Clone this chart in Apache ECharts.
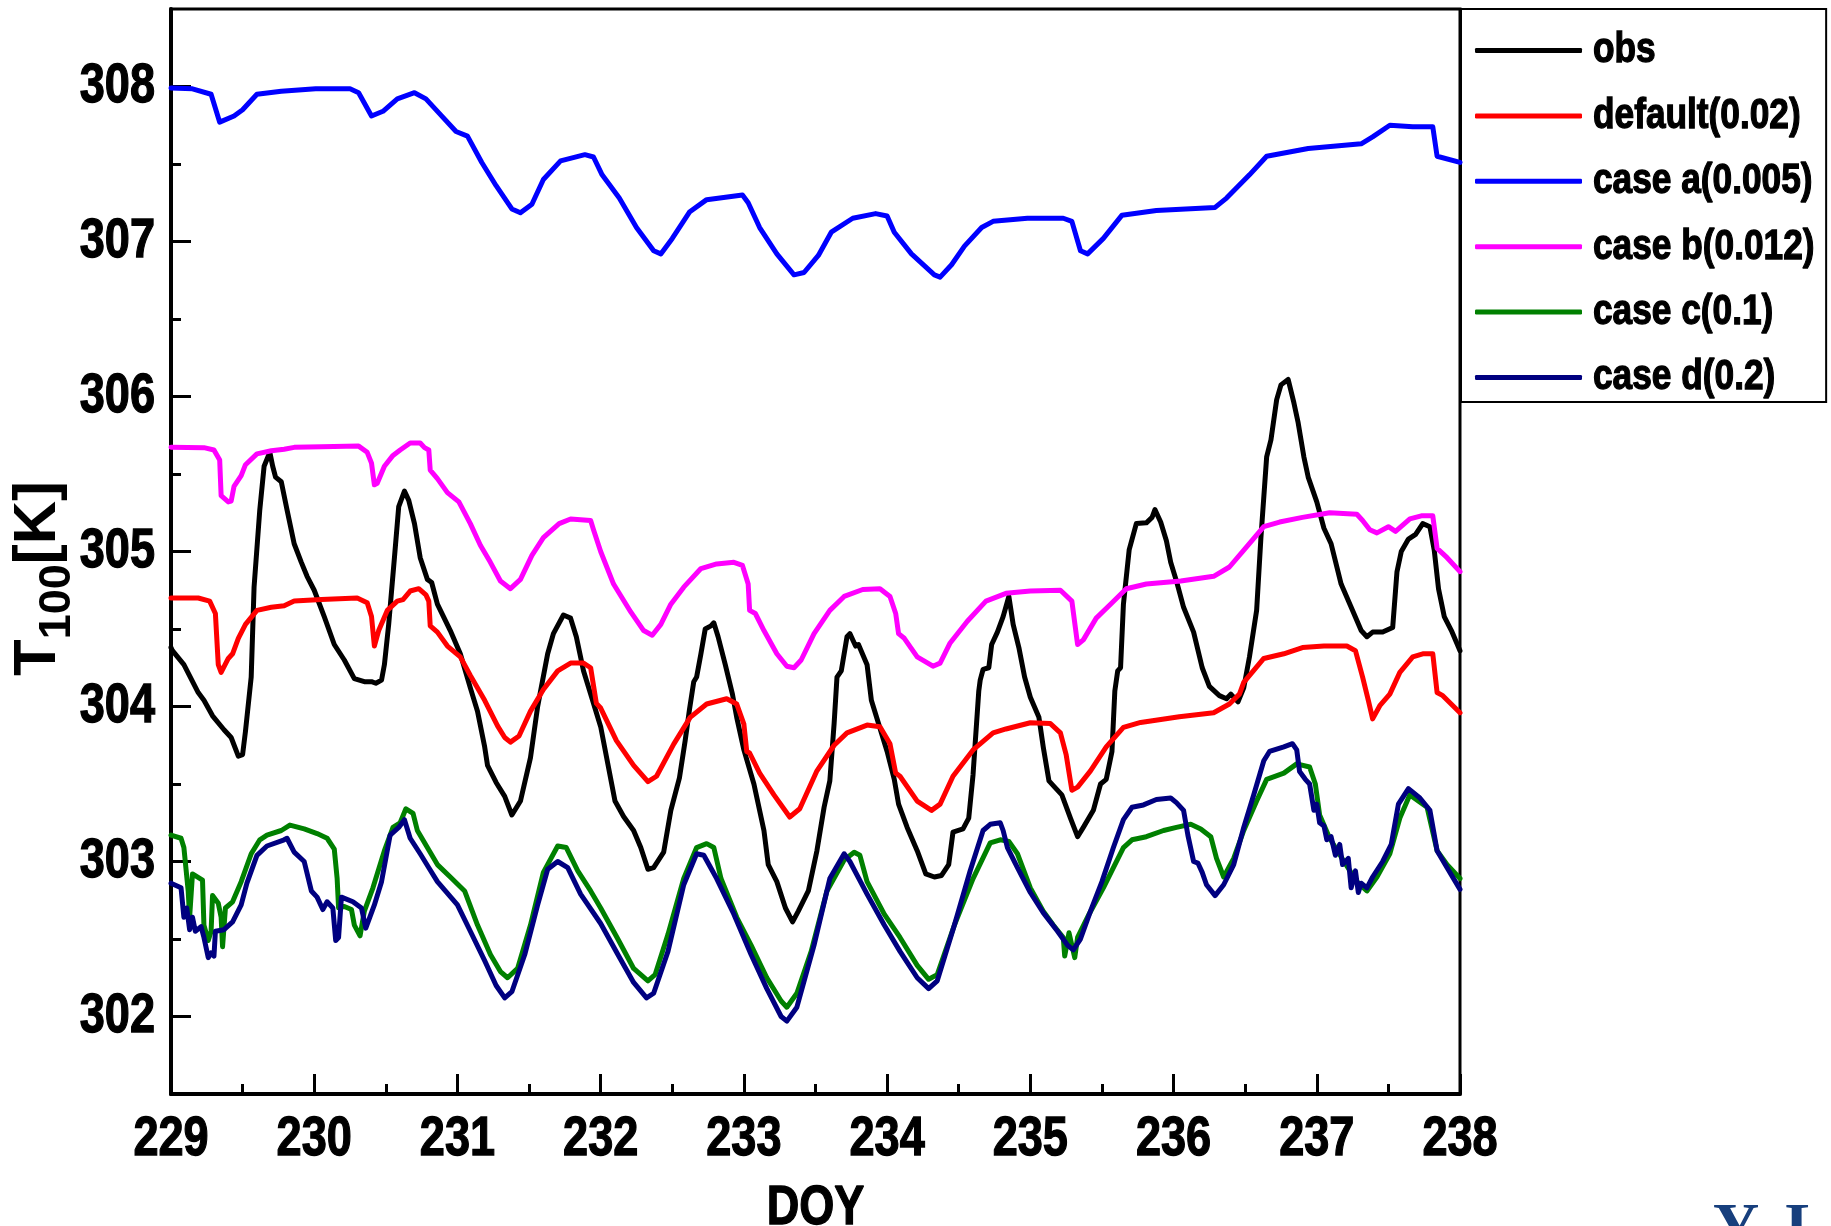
<!DOCTYPE html>
<html>
<head>
<meta charset="utf-8">
<script src="https://cdn.jsdelivr.net/npm/echarts@6/dist/echarts.min.js"></script>
<style>
html,body{margin:0;padding:0;background:#fff;}
#chart{width:1831px;height:1226px;}
</style>
</head>
<body>
<div id="chart"></div>
<script>
const seriesNames = ['obs','default(0.02)','case a(0.005)','case b(0.012)','case c(0.1)','case d(0.2)'];
const yMajorTicks = [302,303,304,305,306,307,308];
const yMinorTicks = [302.5,303.5,304.5,305.5,306.5,307.5];

const obs = [[229.00,304.38],[229.01,304.36],[229.09,304.27],[229.19,304.09],[229.23,304.04],[229.29,303.94],[229.37,303.85],[229.42,303.80],[229.47,303.68],[229.50,303.69],[229.52,303.84],[229.56,304.19],[229.58,304.77],[229.62,305.27],[229.65,305.55],[229.69,305.64],[229.71,305.55],[229.73,305.48],[229.77,305.45],[229.81,305.27],[229.86,305.05],[229.91,304.93],[229.95,304.84],[230.00,304.75],[230.07,304.58],[230.14,304.40],[230.21,304.30],[230.28,304.18],[230.35,304.16],[230.40,304.16],[230.43,304.15],[230.47,304.17],[230.49,304.27],[230.52,304.53],[230.56,304.96],[230.59,305.29],[230.63,305.39],[230.66,305.33],[230.70,305.18],[230.74,304.96],[230.79,304.82],[230.82,304.80],[230.86,304.66],[230.95,304.49],[231.02,304.34],[231.09,304.12],[231.14,303.97],[231.19,303.74],[231.21,303.62],[231.27,303.51],[231.33,303.42],[231.38,303.30],[231.44,303.39],[231.51,303.67],[231.56,304.00],[231.63,304.34],[231.67,304.47],[231.74,304.59],[231.79,304.57],[231.83,304.45],[231.88,304.23],[231.93,304.08],[232.00,303.87],[232.05,303.63],[232.10,303.39],[232.16,303.29],[232.23,303.20],[232.28,303.09],[232.33,302.95],[232.37,302.96],[232.44,303.06],[232.49,303.33],[232.55,303.54],[232.59,303.78],[232.62,303.98],[232.65,304.16],[232.67,304.19],[232.70,304.34],[232.73,304.50],[232.77,304.52],[232.79,304.54],[232.82,304.45],[232.87,304.27],[232.92,304.08],[232.95,303.93],[233.00,303.72],[233.07,303.50],[233.14,303.20],[233.17,302.98],[233.23,302.87],[233.29,302.70],[233.34,302.61],[233.38,302.68],[233.45,302.81],[233.51,303.07],[233.56,303.35],[233.60,303.52],[233.63,303.89],[233.65,304.19],[233.68,304.23],[233.72,304.45],[233.74,304.47],[233.78,304.39],[233.80,304.40],[233.86,304.27],[233.89,304.04],[233.94,303.89],[234.00,303.71],[234.05,303.53],[234.08,303.37],[234.14,303.22],[234.21,303.07],[234.27,302.92],[234.33,302.90],[234.38,302.91],[234.43,302.98],[234.46,303.19],[234.53,303.21],[234.57,303.28],[234.60,303.56],[234.64,304.10],[234.65,304.17],[234.67,304.24],[234.71,304.25],[234.73,304.40],[234.77,304.48],[234.81,304.58],[234.85,304.71],[234.88,304.53],[234.92,304.38],[234.96,304.19],[235.00,304.06],[235.06,303.93],[235.09,303.74],[235.13,303.52],[235.17,303.48],[235.22,303.43],[235.28,303.28],[235.33,303.16],[235.37,303.22],[235.44,303.33],[235.49,303.50],[235.53,303.53],[235.57,303.71],[235.59,304.10],[235.61,304.23],[235.63,304.25],[235.65,304.66],[235.69,305.01],[235.74,305.18],[235.81,305.185],[235.85,305.22],[235.87,305.27],[235.91,305.19],[235.95,305.07],[235.98,304.93],[236.02,304.81],[236.07,304.64],[236.14,304.48],[236.20,304.25],[236.25,304.13],[236.32,304.07],[236.37,304.05],[236.40,304.08],[236.45,304.03],[236.49,304.12],[236.53,304.32],[236.58,304.62],[236.61,305.09],[236.65,305.61],[236.68,305.72],[236.72,305.98],[236.75,306.075],[236.80,306.11],[236.84,305.96],[236.87,305.83],[236.91,305.61],[236.94,305.48],[237.00,305.32],[237.05,305.15],[237.10,305.05],[237.17,304.79],[237.25,304.62],[237.31,304.49],[237.35,304.45],[237.39,304.48],[237.46,304.48],[237.53,304.51],[237.56,304.87],[237.59,305.00],[237.64,305.08],[237.69,305.11],[237.74,305.18],[237.79,305.16],[237.82,305.01],[237.85,304.76],[237.89,304.58],[237.94,304.49],[238.00,304.36]];

const caseDefault = [[229.00,304.70],[229.19,304.70],[229.27,304.68],[229.31,304.60],[229.33,304.27],[229.35,304.22],[229.40,304.31],[229.43,304.34],[229.47,304.44],[229.52,304.53],[229.60,304.62],[229.70,304.64],[229.79,304.65],[229.86,304.68],[230.05,304.69],[230.30,304.70],[230.37,304.67],[230.40,304.58],[230.42,304.39],[230.45,304.49],[230.51,304.62],[230.58,304.68],[230.62,304.69],[230.67,304.745],[230.73,304.76],[230.78,304.72],[230.80,304.68],[230.81,304.52],[230.86,304.48],[230.93,304.39],[231.02,304.32],[231.09,304.20],[231.19,304.04],[231.28,303.875],[231.33,303.80],[231.37,303.77],[231.43,303.81],[231.51,303.97],[231.60,304.11],[231.70,304.23],[231.79,304.28],[231.88,304.28],[231.93,304.25],[231.97,304.02],[232.00,303.99],[232.11,303.78],[232.23,303.62],[232.33,303.515],[232.39,303.55],[232.51,303.757],[232.625,303.93],[232.74,304.016],[232.88,304.05],[232.95,304.016],[233.00,303.886],[233.02,303.71],[233.04,303.70],[233.11,303.57],[233.21,303.43],[233.32,303.287],[233.39,303.34],[233.51,303.585],[233.63,303.75],[233.72,303.83],[233.86,303.88],[233.95,303.87],[234.02,303.76],[234.06,303.57],[234.09,303.55],[234.21,303.39],[234.31,303.33],[234.37,303.37],[234.46,303.55],[234.60,303.72],[234.74,303.83],[234.83,303.855],[235.00,303.895],[235.14,303.89],[235.21,303.83],[235.25,303.69],[235.29,303.46],[235.33,303.48],[235.42,303.585],[235.53,303.74],[235.65,303.865],[235.77,303.897],[236.04,303.934],[236.28,303.96],[236.39,304.016],[236.46,304.08],[236.49,304.156],[236.63,304.31],[236.77,304.34],[236.90,304.38],[237.05,304.39],[237.21,304.39],[237.27,304.36],[237.32,304.19],[237.36,304.04],[237.39,303.92],[237.44,304.005],[237.51,304.08],[237.58,304.22],[237.67,304.32],[237.74,304.34],[237.81,304.34],[237.84,304.09],[237.88,304.07],[238.00,303.96]];

const caseA = [[229.00,307.99],[229.15,307.985],[229.28,307.95],[229.34,307.77],[229.44,307.81],[229.50,307.85],[229.60,307.95],[229.77,307.97],[230.01,307.985],[230.25,307.985],[230.31,307.96],[230.40,307.81],[230.48,307.84],[230.58,307.92],[230.70,307.96],[230.78,307.92],[230.87,307.83],[230.99,307.71],[231.07,307.68],[231.17,307.51],[231.27,307.36],[231.38,307.21],[231.44,307.185],[231.52,307.24],[231.60,307.40],[231.72,307.52],[231.89,307.56],[231.95,307.545],[232.01,307.43],[232.13,307.28],[232.25,307.09],[232.37,306.94],[232.42,306.92],[232.50,307.02],[232.62,307.19],[232.74,307.27],[232.99,307.30],[233.03,307.25],[233.11,307.09],[233.23,306.92],[233.35,306.785],[233.42,306.80],[233.52,306.91],[233.61,307.06],[233.76,307.15],[233.92,307.18],[234.00,307.165],[234.05,307.06],[234.17,306.92],[234.33,306.785],[234.37,306.77],[234.45,306.85],[234.54,306.97],[234.66,307.09],[234.74,307.13],[234.98,307.15],[235.23,307.15],[235.29,307.13],[235.35,306.94],[235.40,306.92],[235.51,307.02],[235.64,307.17],[235.88,307.20],[236.29,307.22],[236.37,307.28],[236.53,307.43],[236.65,307.55],[236.94,307.60],[237.31,307.63],[237.39,307.675],[237.51,307.75],[237.67,307.74],[237.81,307.74],[237.84,307.55],[238.00,307.51]];

const caseB = [[229.00,305.672],[229.23,305.67],[229.30,305.655],[229.34,305.59],[229.35,305.36],[229.40,305.32],[229.42,305.325],[229.44,305.42],[229.49,305.49],[229.52,305.56],[229.60,305.63],[229.70,305.65],[229.79,305.66],[229.86,305.672],[230.05,305.676],[230.31,305.68],[230.37,305.64],[230.40,305.57],[230.42,305.43],[230.44,305.44],[230.49,305.55],[230.55,305.62],[230.60,305.655],[230.67,305.70],[230.74,305.70],[230.77,305.67],[230.80,305.655],[230.81,305.525],[230.86,305.47],[230.93,305.38],[231.01,305.32],[231.09,305.18],[231.16,305.04],[231.23,304.93],[231.30,304.81],[231.37,304.76],[231.44,304.82],[231.52,304.975],[231.60,305.09],[231.71,305.18],[231.79,305.21],[231.93,305.20],[231.95,305.14],[232.00,305.00],[232.09,304.79],[232.21,304.61],[232.30,304.49],[232.36,304.46],[232.42,304.53],[232.49,304.66],[232.58,304.77],[232.70,304.89],[232.81,304.92],[232.93,304.93],[232.99,304.91],[233.03,304.79],[233.04,304.62],[233.08,304.60],[233.14,304.49],[233.23,304.34],[233.30,304.26],[233.35,304.25],[233.40,304.30],[233.49,304.47],[233.60,304.62],[233.70,304.71],[233.83,304.755],[233.95,304.76],[234.02,304.71],[234.06,304.60],[234.08,304.47],[234.12,304.44],[234.21,304.32],[234.32,304.26],[234.37,304.28],[234.44,304.41],[234.56,304.55],[234.69,304.68],[234.83,304.73],[235.00,304.745],[235.21,304.75],[235.29,304.68],[235.33,304.40],[235.37,304.43],[235.46,304.57],[235.56,304.66],[235.67,304.76],[235.81,304.79],[236.05,304.81],[236.28,304.84],[236.39,304.90],[236.51,305.03],[236.63,305.16],[236.74,305.19],[236.90,305.22],[237.09,305.25],[237.28,305.24],[237.32,305.20],[237.37,305.14],[237.42,305.12],[237.50,305.16],[237.55,305.13],[237.65,305.21],[237.73,305.23],[237.81,305.23],[237.84,305.02],[237.91,304.96],[238.00,304.87]];

const caseC = [[229.00,303.17],[229.07,303.15],[229.09,303.09],[229.12,302.81],[229.13,302.64],[229.15,302.92],[229.22,302.88],[229.23,302.59],[229.26,302.49],[229.28,302.55],[229.29,302.78],[229.33,302.73],[229.35,302.64],[229.36,302.45],[229.38,302.70],[229.43,302.74],[229.49,302.87],[229.56,303.05],[229.62,303.14],[229.67,303.17],[229.77,303.20],[229.83,303.235],[229.93,303.21],[230.02,303.18],[230.09,303.15],[230.14,303.08],[230.16,302.89],[230.17,302.70],[230.21,302.71],[230.26,302.69],[230.28,302.59],[230.32,302.52],[230.35,302.68],[230.41,302.83],[230.49,303.07],[230.55,303.22],[230.60,303.25],[230.64,303.34],[230.69,303.31],[230.72,303.20],[230.79,303.09],[230.86,302.98],[230.95,302.90],[231.05,302.81],[231.14,302.59],[231.23,302.40],[231.30,302.29],[231.35,302.25],[231.42,302.31],[231.51,302.59],[231.60,302.93],[231.70,303.10],[231.76,303.09],[231.84,302.94],[231.93,302.81],[232.00,302.70],[232.12,302.50],[232.23,302.31],[232.33,302.23],[232.38,302.27],[232.47,302.53],[232.58,302.89],[232.67,303.09],[232.74,303.115],[232.79,303.09],[232.84,302.89],[232.95,302.64],[233.05,302.46],[233.16,302.25],[233.26,302.10],[233.30,302.06],[233.37,302.15],[233.47,302.42],[233.58,302.81],[233.70,303.01],[233.77,303.06],[233.81,303.04],[233.86,302.87],[233.98,302.66],[234.09,302.51],[234.21,302.33],[234.29,302.24],[234.35,302.27],[234.47,302.59],[234.60,302.89],[234.72,303.12],[234.79,303.14],[234.85,303.13],[234.91,303.05],[235.00,302.83],[235.09,302.68],[235.16,302.59],[235.23,302.51],[235.24,302.39],[235.27,302.54],[235.29,302.46],[235.31,302.38],[235.33,302.51],[235.41,302.66],[235.51,302.83],[235.58,302.96],[235.65,303.09],[235.71,303.14],[235.81,303.16],[235.93,303.20],[236.02,303.22],[236.12,303.24],[236.19,303.21],[236.26,303.16],[236.30,303.02],[236.35,302.90],[236.42,303.02],[236.49,303.20],[236.58,303.39],[236.65,303.53],[236.77,303.57],[236.86,303.63],[236.95,303.61],[236.99,303.50],[237.02,303.30],[237.09,303.15],[237.19,303.00],[237.28,302.87],[237.35,302.81],[237.42,302.90],[237.51,303.05],[237.58,303.28],[237.65,303.43],[237.77,303.35],[237.84,303.07],[237.91,302.98],[238.00,302.89]];

const caseD = [[229.00,302.86],[229.07,302.83],[229.09,302.64],[229.11,302.70],[229.13,302.56],[229.15,302.64],[229.17,302.55],[229.21,302.58],[229.23,302.51],[229.26,302.38],[229.28,302.41],[229.30,302.39],[229.31,302.55],[229.37,302.56],[229.43,302.61],[229.49,302.72],[229.53,302.86],[229.60,303.04],[229.67,303.10],[229.79,303.14],[229.81,303.15],[229.86,303.06],[229.93,303.00],[229.98,302.81],[230.02,302.77],[230.06,302.69],[230.09,302.74],[230.13,302.70],[230.15,302.49],[230.17,302.51],[230.19,302.77],[230.27,302.74],[230.33,302.70],[230.36,302.57],[230.42,302.72],[230.47,302.87],[230.53,303.17],[230.59,303.22],[230.63,303.27],[230.67,303.15],[230.74,303.05],[230.80,302.96],[230.86,302.87],[231.00,302.72],[231.09,302.55],[231.19,302.36],[231.27,302.20],[231.33,302.12],[231.38,302.16],[231.47,302.40],[231.56,302.72],[231.63,302.95],[231.70,303.00],[231.77,302.96],[231.86,302.79],[232.00,302.60],[232.12,302.40],[232.23,302.22],[232.32,302.12],[232.37,302.15],[232.47,302.42],[232.58,302.85],[232.67,303.05],[232.72,303.04],[232.81,302.89],[232.93,302.66],[233.05,302.40],[233.16,302.18],[233.26,302.00],[233.30,301.97],[233.37,302.06],[233.49,302.46],[233.60,302.89],[233.70,303.05],[233.74,303.00],[233.86,302.79],[233.98,302.59],[234.09,302.42],[234.21,302.25],[234.29,302.18],[234.35,302.23],[234.47,302.59],[234.58,302.94],[234.67,303.20],[234.72,303.24],[234.79,303.25],[234.81,303.20],[234.84,303.09],[234.91,302.96],[235.00,302.80],[235.09,302.67],[235.19,302.55],[235.26,302.46],[235.30,302.43],[235.35,302.50],[235.42,302.68],[235.50,302.87],[235.58,303.09],[235.65,303.27],[235.71,303.35],[235.79,303.365],[235.88,303.40],[235.98,303.41],[236.02,303.38],[236.07,303.33],[236.10,303.17],[236.14,303.00],[236.17,302.99],[236.20,302.93],[236.23,302.85],[236.29,302.78],[236.35,302.85],[236.42,302.98],[236.49,303.22],[236.56,303.43],[236.63,303.65],[236.67,303.71],[236.77,303.74],[236.83,303.76],[236.86,303.72],[236.88,303.58],[236.92,303.53],[236.95,303.50],[236.98,303.33],[237.00,303.37],[237.02,303.25],[237.05,303.23],[237.07,303.14],[237.10,303.16],[237.13,303.04],[237.16,303.11],[237.18,302.98],[237.22,303.02],[237.24,302.83],[237.27,302.94],[237.29,302.80],[237.31,302.86],[237.35,302.83],[237.39,302.90],[237.46,303.00],[237.52,303.11],[237.57,303.37],[237.64,303.47],[237.72,303.41],[237.79,303.33],[237.84,303.07],[237.91,302.96],[238.00,302.82]];

const seriesData = [obs, caseDefault, caseA, caseB, caseC, caseD];
const seriesColors = ['#000000','#ff0000','#0000ff','#ff00ff','#008000','#000080'];

// Condensed rendering for fonts tagged with the marker family (the reference uses a narrow bold sans).
const SQUEEZE = 0.82;
const MARK = 'SqzNarrow';
(function () {
  const proto = CanvasRenderingContext2D.prototype;
  const oFill = proto.fillText, oStroke = proto.strokeText, oMeasure = proto.measureText;
  const tagged = ctx => String(ctx.font).indexOf(MARK) >= 0;
  proto.fillText = function (t, x, y, mw) {
    if (!tagged(this)) return oFill.apply(this, arguments);
    this.save(); this.translate(x, y); this.scale(SQUEEZE, 1);
    if (mw !== undefined) oFill.call(this, t, 0, 0, mw / SQUEEZE); else oFill.call(this, t, 0, 0);
    this.restore();
  };
  proto.strokeText = function (t, x, y, mw) {
    if (!tagged(this)) return oStroke.apply(this, arguments);
    this.save(); this.translate(x, y); this.scale(SQUEEZE, 1);
    if (mw !== undefined) oStroke.call(this, t, 0, 0, mw / SQUEEZE); else oStroke.call(this, t, 0, 0);
    this.restore();
  };
  proto.measureText = function (t) {
    const m = oMeasure.call(this, t);
    if (!tagged(this)) return m;
    return {
      width: m.width * SQUEEZE,
      actualBoundingBoxLeft: m.actualBoundingBoxLeft * SQUEEZE,
      actualBoundingBoxRight: m.actualBoundingBoxRight * SQUEEZE,
      actualBoundingBoxAscent: m.actualBoundingBoxAscent,
      actualBoundingBoxDescent: m.actualBoundingBoxDescent,
      fontBoundingBoxAscent: m.fontBoundingBoxAscent,
      fontBoundingBoxDescent: m.fontBoundingBoxDescent
    };
  };
})();

const NARROW = MARK + ', "Liberation Sans", Arial, sans-serif';
const REG = '"Liberation Sans", Arial, sans-serif';
const boldText = {fontFamily: NARROW, fontWeight: 'bold', color: '#000', textBorderColor: '#000', textBorderWidth: 1.3};

const chart = echarts.init(document.getElementById('chart'), null, {renderer: 'canvas'});
const option = {
  animation: false,
  backgroundColor: '#ffffff',
  grid: {left: 171, top: 9, width: 1289, height: 1085, show: true, borderColor: '#000', borderWidth: 3, containLabel: false, outerBoundsMode: 'none'},
  legend: {
    orient: 'vertical', left: 1461, top: 9,
    data: seriesNames,
    icon: 'roundRect',
    backgroundColor: '#ffffff', borderColor: '#000', borderWidth: 2,
    padding: [19, 11, 2, 14],
    itemWidth: 107, itemHeight: 5, itemGap: 20.4,
    textStyle: Object.assign({}, boldText, {fontSize: 43, lineHeight: 45, padding: [0, 0, 0, 6]})
  },
  xAxis: {
    type: 'value', min: 229, max: 238, interval: 1,
    axisLine: {show: true, lineStyle: {color: '#000', width: 4}},
    axisTick: {show: true, inside: true, length: 20, lineStyle: {color: '#000', width: 3}},
    minorTick: {show: true, splitNumber: 2, length: 10, lineStyle: {color: '#000', width: 3}},
    axisLabel: Object.assign({}, boldText, {fontSize: 55, margin: 23}),
    splitLine: {show: false}, minorSplitLine: {show: false},
    name: 'DOY', nameLocation: 'middle', nameGap: 92, nameMoveOverlap: false,
    nameTextStyle: Object.assign({}, boldText, {fontSize: 55})
  },
  yAxis: [{
    type: 'value', min: 301.5, max: 308.5, position: 'left',
    axisLine: {show: true, lineStyle: {color: '#000', width: 4}},
    axisTick: {show: true, inside: true, length: 20, lineStyle: {color: '#000', width: 3}, customValues: yMajorTicks},
    axisLabel: Object.assign({}, boldText, {fontSize: 55, margin: 16, customValues: yMajorTicks}),
    splitLine: {show: false},
    name: '{t|T}{s|100}{t|[K]}', nameLocation: 'middle', nameGap: 91, nameRotate: 90, nameMoveOverlap: false,
    nameTextStyle: {
      color: '#000', fontFamily: REG, fontWeight: 'bold', fontSize: 60, padding: [0, 54, 0, 0],
      rich: {
        t: {fontFamily: REG, fontWeight: 'bold', fontSize: 60, color: '#000', lineHeight: 72, verticalAlign: 'top'},
        s: {fontFamily: REG, fontWeight: 'bold', fontSize: 45, color: '#000', lineHeight: 24, verticalAlign: 'bottom'}
      }
    }
  }, {
    type: 'value', min: 301.5, max: 308.5, position: 'left', offset: 0,
    axisLine: {show: false},
    axisTick: {show: true, inside: true, length: 10, lineStyle: {color: '#000', width: 3}, customValues: yMinorTicks},
    axisLabel: {show: false},
    splitLine: {show: false}
  }],
  graphic: [{
    type: 'text', left: 1713, top: 1198, silent: true,
    style: {text: 'Y. L', fill: '#173f7d', font: 'bold 64px "Liberation Serif", serif'}
  }],
  series: seriesNames.map((n, i) => ({
    name: n, type: 'line', data: seriesData[i], yAxisIndex: 0,
    symbol: 'none', showSymbol: false, clip: true,
    lineStyle: {color: seriesColors[i], width: 5, cap: 'round', join: 'round'},
    itemStyle: {color: seriesColors[i]},
    z: 2 + i
  }))
};
chart.setOption(option);
</script>
</body>
</html>
